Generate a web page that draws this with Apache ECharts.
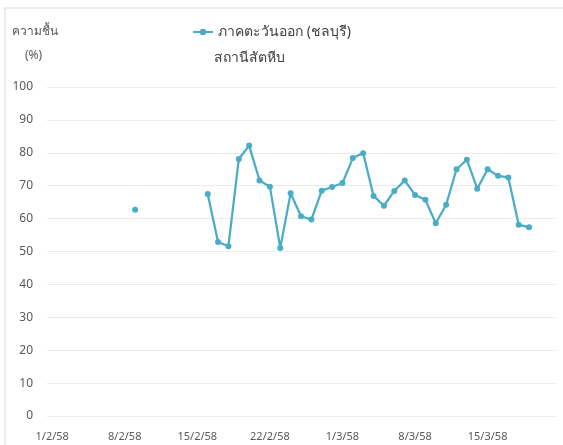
<!DOCTYPE html>
<html>
<head>
<meta charset="utf-8">
<script src="https://cdn.jsdelivr.net/npm/echarts@6/dist/echarts.min.js"></script>
<style>
  html, body { margin: 0; padding: 0; background: #fff; }
  #chart { width: 563px; height: 445px; }
</style>
</head>
<body>
<div id="chart"></div>
<script>
// วันที่ 1/2/58 - 21/3/58
var days = [];
for (var d = 1; d <= 28; d++) days.push(d + '/2/58');
for (var m = 1; m <= 21; m++) days.push(m + '/3/58');

// ความชื้น (%) รายวัน, null = ไม่มีข้อมูล
var humidityFeb = [
  null, null, null, null, null, null, null, null, 62.7, null,
  null, null, null, null, null, 67.5, 52.9, 51.6, 78.1, 82.2,
  71.6, 69.7, 51.1, 67.7, 60.7, 59.7, 68.5, 69.6
];
var humidityMar = [
  70.8, 78.4, 79.9, 66.9, 63.9, 68.4, 71.6, 67.2, 65.7, 58.6,
  64.2, 75.0, 77.9, 69.1, 75.0, 73.0, 72.5, 58.1, 57.4, null,
  null
];
var humidity = humidityFeb.concat(humidityMar);

var yTicks = { min: 0, max: 100, interval: 10 };

var font = '"Noto Sans", "DejaVu Sans", sans-serif';

var chart = echarts.init(document.getElementById('chart'));
chart.setOption({
  backgroundColor: '#ffffff',
  animation: false,
  textStyle: { fontFamily: font },
  graphic: [{
    type: 'rect',
    shape: { x: 5, y: 8, width: 600, height: 500 },
    style: { fill: 'none', stroke: '#d9d9d9', lineWidth: 1 }
  }, {
    type: 'text',
    left: 12, top: 26,
    style: { text: 'ความชื้น', fill: '#595959', font: '12px ' + font }
  }, {
    type: 'text',
    left: 25, top: 50,
    style: { text: '(%)', fill: '#595959', font: '12px ' + font }
  }, {
    type: 'text',
    left: 214, top: 51,
    style: { text: 'สถานีสัตหีบ', fill: '#404040', font: '14px ' + font }
  }],
  legend: {
    left: 187, top: 20,
    itemWidth: 20, itemHeight: 8, itemGap: 3,
    textStyle: { color: '#404040', fontSize: 14, fontFamily: font },
    data: ['ภาคตะวันออก (ชลบุรี)']
  },
  grid: { left: 47, right: 8, top: 87, bottom: 29, containLabel: false },
  xAxis: {
    type: 'category',
    data: days,
    boundaryGap: true,
    axisLine: { show: false },
    axisTick: { show: false },
    axisLabel: { interval: 6, color: '#595959', fontSize: 11, margin: 15 }
  },
  yAxis: {
    type: 'value',
    min: yTicks.min, max: yTicks.max, interval: yTicks.interval,
    axisLine: { show: false },
    axisTick: { show: false },
    axisLabel: { color: '#595959', fontSize: 12, margin: 14 },
    splitLine: { lineStyle: { color: '#ebebeb', width: 1 } }
  },
  series: [{
    name: 'ภาคตะวันออก (ชลบุรี)',
    type: 'line',
    data: humidity,
    connectNulls: false,
    symbol: 'circle',
    symbolSize: 6,
    showAllSymbol: true,
    lineStyle: { color: '#4bacc6', width: 2.25 },
    itemStyle: { color: '#4bacc6' }
  }]
});
</script>
</body>
</html>
